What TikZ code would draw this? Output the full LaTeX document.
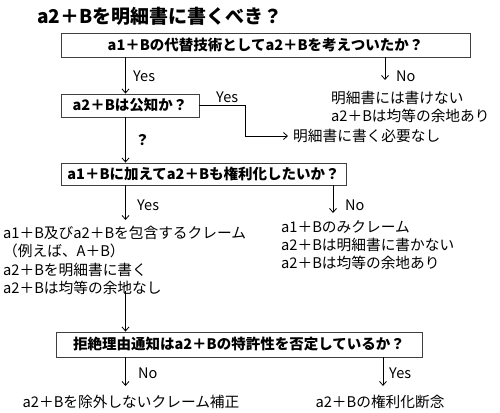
\documentclass[tikz,border=0pt]{standalone}
\usepackage{fontspec}
\setmainfont{Noto Sans CJK JP}
\usetikzlibrary{arrows.meta,positioning}
\tikzset{
  qbox/.style={draw=black!75,line width=0.9pt,inner sep=0pt,font=\fontsize{14.5}{17}\selectfont\bfseries},
  arr/.style={line width=0.8pt,-{Straight Barb[length=4pt,width=7pt]}},
  lbl/.style={inner sep=0pt,font=\fontsize{14.5}{17}\selectfont},
  txt/.style={inner sep=0pt,align=left,font=\fontsize{14.7}{18.3}\selectfont}
}
\begin{document}
\begin{tikzpicture}[x=1pt,y=-1pt]
\useasboundingbox (0,0) rectangle (500,412);
\node[inner sep=0pt,anchor=west,font=\fontsize{19}{22}\selectfont\bfseries] (title) at (37,16) {a2＋Bを明細書に書くべき？};
\node[qbox,minimum width=409pt,minimum height=24pt] (b1) at (265.5,45) {a1＋Bの代替技術としてa2＋Bを考えついたか？};
\node[qbox,minimum width=138pt,minimum height=23pt] (b2) at (130,105.5) {a2＋Bは公知か？};
\node[qbox,minimum width=285pt,minimum height=22pt] (b3) at (203.5,174) {a1＋Bに加えてa2＋Bも権利化したいか？};
\node[qbox,minimum width=366pt,minimum height=25pt] (b4) at (239,344.5) {拒絶理由通知はa2＋Bの特許性を否定しているか？};
% outcome texts
\node[txt,anchor=north west] (n1) at (331,91) {明細書には書けない\\a2＋Bは均等の余地あり};
\node[txt,anchor=west] (n2) at (293,136) {明細書に書く必要なし};
\node[txt,anchor=north west] (n3) at (3,226) {a1＋B及びa2＋Bを包含するクレーム\\（例えば、A＋B）\\a2＋Bを明細書に書く\\a2＋Bは均等の余地なし};
\node[txt,anchor=north west] (n4) at (281,220) {a1＋Bのみクレーム\\a2＋Bは明細書に書かない\\a2＋Bは均等の余地あり};
\node[txt] (n5) at (131,402) {a2＋Bを除外しないクレーム補正};
\node[txt] (n6) at (380,402) {a2＋Bの権利化断念};
% columns
\coordinate (cl) at (125.5,0);
\coordinate (cr1) at (385,0);
\coordinate (cr3) at (333,0);
\coordinate (cr4) at (383,0);
\coordinate (elb) at (245,0);
% connectors
\draw[arr] (b1.south -| cl) -- (b2.north -| cl);
\draw[arr] (b1.south -| cr1) -- ([yshift=11pt]n1.north -| cr1);
\draw[arr] (b2.east) -- (b2.east -| elb) |- ([xshift=-5pt]n2.west);
\draw[arr] (b2.south -| cl) -- (b3.north -| cl);
\draw[arr] (b3.south -| cl) -- ([yshift=6pt]n3.north -| cl);
\draw[arr] (b3.south -| cr3) -- ([yshift=7pt]n4.north -| cr3);
\draw[arr] ([yshift=4pt]n3.south -| cl) -- (b4.north -| cl);
\draw[arr] (b4.south -| cl) -- ([yshift=9pt]n5.north -| cl);
\draw[arr] (b4.south -| cr4) -- ([yshift=9pt]n6.north -| cr4);
% labels
\node[lbl,anchor=west] (y1) at (133,76) {Yes};
\node[lbl,anchor=west] (no1) at (396,76) {No};
\node[lbl,anchor=west] (y2) at (216,97) {Yes};
\node[lbl,anchor=west,font=\fontsize{14.5}{17}\selectfont\bfseries] (q) at (135,140) {？};
\node[lbl,anchor=west] (y3) at (137,205) {Yes};
\node[lbl,anchor=west] (no3) at (345,205) {No};
\node[lbl,anchor=west] (no4) at (138,373) {No};
\node[lbl,anchor=west] (y4) at (389,373) {Yes};
\end{tikzpicture}
\end{document}
